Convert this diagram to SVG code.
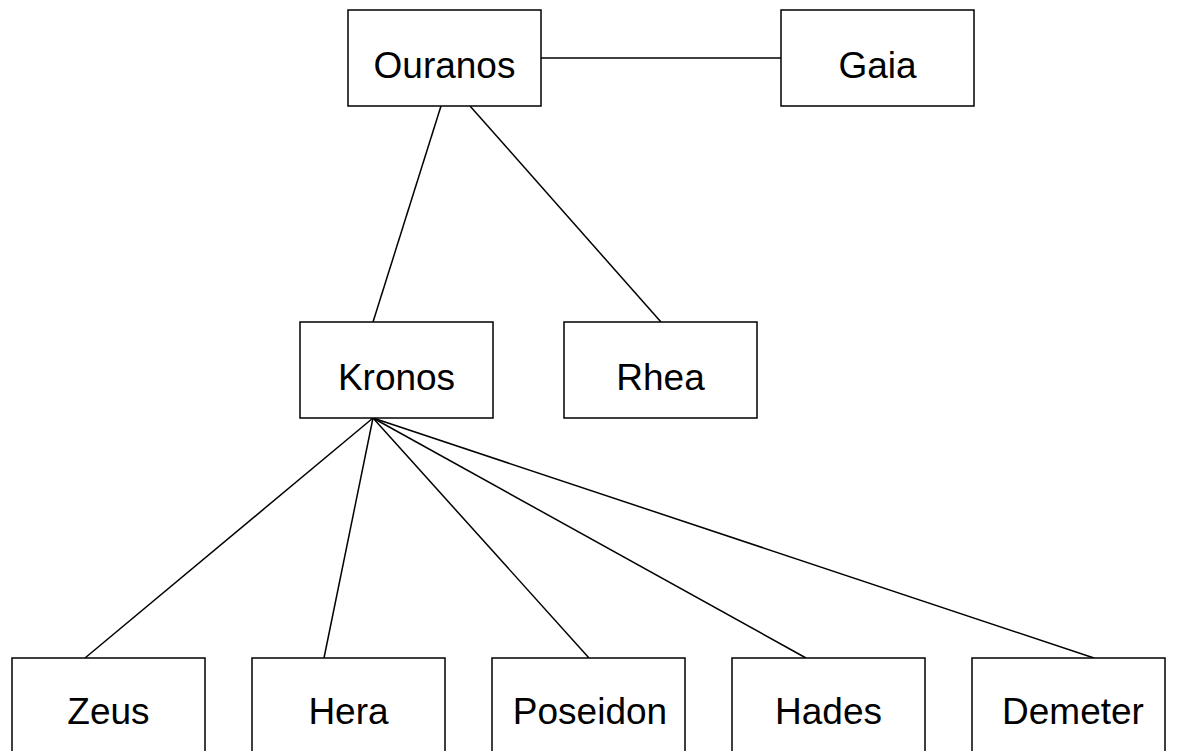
<svg xmlns="http://www.w3.org/2000/svg" width="1187" height="751" viewBox="0 0 1187 751">
  <style>
    .box { fill: #ffffff; stroke: #000000; stroke-width: 1.5; }
    .label { font-family: "Liberation Sans", Arial, sans-serif; font-size: 37px; fill: #000000; text-anchor: middle; }
    .link { stroke: #000000; stroke-width: 1.5; fill: none; }
  </style>
  <rect x="0" y="0" width="1187" height="751" fill="#ffffff"/>

  <!-- family links -->
  <g id="connectors">
    <line class="link" x1="541" y1="58" x2="781" y2="58"/>
    <line class="link" x1="441" y1="106" x2="373" y2="322"/>
    <line class="link" x1="470" y1="106" x2="661" y2="322"/>
    <line class="link" x1="373" y1="418" x2="85" y2="658"/>
    <line class="link" x1="373" y1="418" x2="324" y2="658"/>
    <line class="link" x1="373" y1="418" x2="589" y2="658"/>
    <line class="link" x1="373" y1="418" x2="806" y2="658"/>
    <line class="link" x1="373" y1="418" x2="1094" y2="658"/>
  </g>

  <g id="ouranos">
    <rect class="box" x="348" y="10" width="193" height="96"/>
    <text class="label" x="444.5" y="78">Ouranos</text>
  </g>
  <g id="gaia">
    <rect class="box" x="781" y="10" width="193" height="96"/>
    <text class="label" x="877.5" y="78">Gaia</text>
  </g>
  <g id="kronos">
    <rect class="box" x="300" y="322" width="193" height="96"/>
    <text class="label" x="396.5" y="390">Kronos</text>
  </g>
  <g id="rhea">
    <rect class="box" x="564" y="322" width="193" height="96"/>
    <text class="label" x="660.5" y="390">Rhea</text>
  </g>
  <g id="zeus">
    <rect class="box" x="12" y="658" width="193" height="120"/>
    <text class="label" x="108.5" y="724">Zeus</text>
  </g>
  <g id="hera">
    <rect class="box" x="252" y="658" width="193" height="120"/>
    <text class="label" x="348.5" y="724">Hera</text>
  </g>
  <g id="poseidon">
    <rect class="box" x="492" y="658" width="193" height="120"/>
    <text class="label" x="590" y="724">Poseidon</text>
  </g>
  <g id="hades">
    <rect class="box" x="732" y="658" width="193" height="120"/>
    <text class="label" x="828.5" y="724">Hades</text>
  </g>
  <g id="demeter">
    <rect class="box" x="972" y="658" width="193" height="120"/>
    <text class="label" x="1073" y="724">Demeter</text>
  </g>
</svg>
